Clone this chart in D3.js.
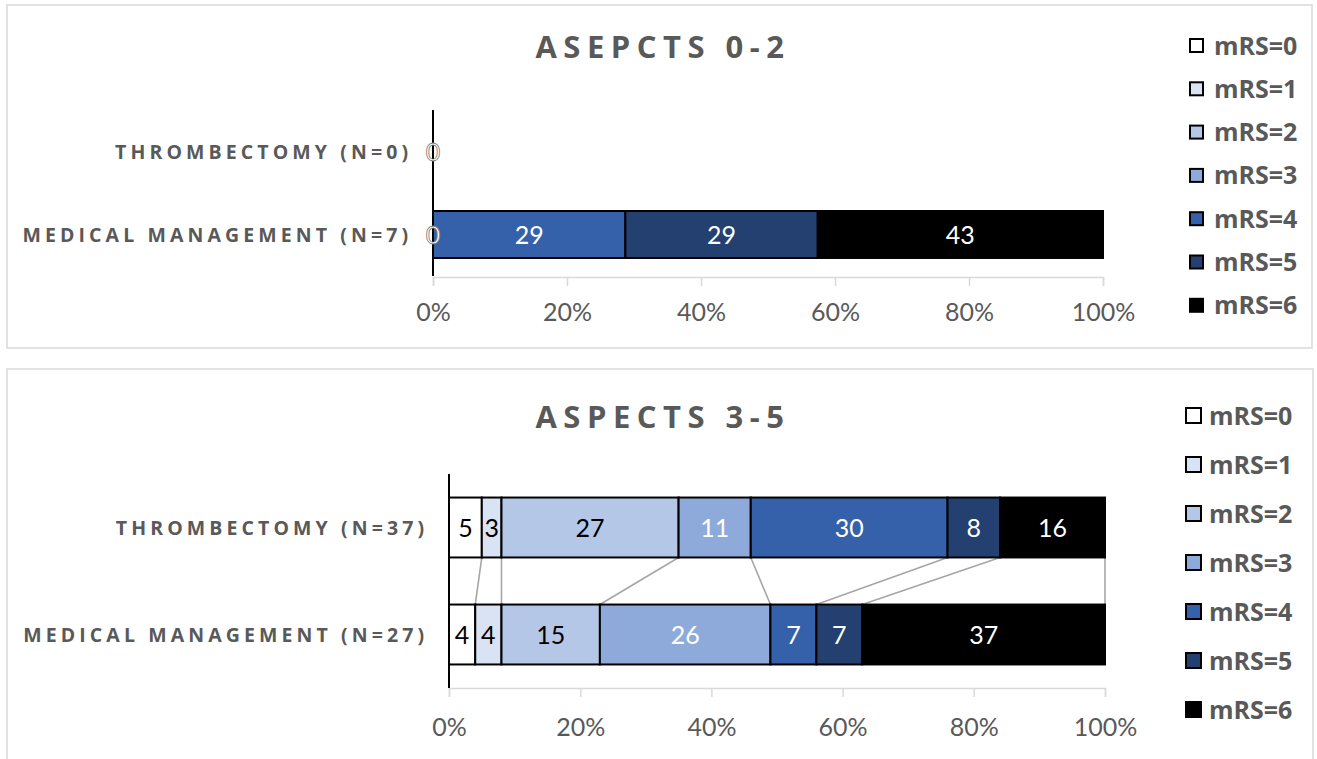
<!DOCTYPE html>
<meta charset="utf-8">
<style>
body { margin: 0; background: #fff; }
.frame { fill: #fff; stroke: #d9d9d9; stroke-width: 1.5; }
.title { font-family: "Open Sans", sans-serif; font-weight: 700; font-size: 31px; fill: #595959; letter-spacing: 6.5px; }
.cat { font-family: "Open Sans", sans-serif; font-weight: 700; font-size: 19.5px; fill: #595959; letter-spacing: 4.1px; }
.legend text { font-family: "Open Sans", sans-serif; font-weight: 700; font-size: 25px; fill: #595959; }
.tick text { font-family: Lato, sans-serif; font-size: 25px; fill: #595959; }
.lbl { font-family: Lato, sans-serif; font-size: 25px; }
.seg { stroke: #000; stroke-width: 2; }
.serline { stroke: #a6a6a6; stroke-width: 1.6; fill: none; }
</style>
<svg width="1317" height="759"></svg>
<script src="https://cdn.jsdelivr.net/npm/d3@7"></script>
<script>

// data
var levels = ["mRS=0", "mRS=1", "mRS=2", "mRS=3", "mRS=4", "mRS=5", "mRS=6"];
var colors = ["#ffffff", "#dae3f3", "#b4c7e7", "#8eaadb", "#3560aa", "#244070", "#000000"];
var darkText = [true, true, true, false, false, false, false];

var topTitle = "ASEPCTS 0-2";
var topGroups = ["THROMBECTOMY (N=0)", "MEDICAL MANAGEMENT (N=7)"];
var topThrombectomy = [0, 0, 0, 0, 0, 0, 0];
var topMedical = [0, 0, 0, 0, 29, 29, 43];

var botTitle = "ASPECTS 3-5";
var botGroups = ["THROMBECTOMY (N=37)", "MEDICAL MANAGEMENT (N=27)"];
var botThrombectomy = [5, 3, 27, 11, 30, 8, 16];
var botMedical = [4, 4, 15, 26, 7, 7, 37];

var tickValues = [0, 0.2, 0.4, 0.6, 0.8, 1];

var svg = d3.select("svg");

function panel(title, groups, seriesA, seriesB, lay) {
  var g = svg.append("g");

  g.append("rect").attr("class", "frame")
      .attr("x", lay.frame[0]).attr("y", lay.frame[1])
      .attr("width", lay.frame[2]).attr("height", lay.frame[3]);

  g.append("text").attr("class", "title")
      .attr("x", 660 + 3).attr("y", lay.titleY)
      .attr("text-anchor", "middle")
      .text(title);

  var rows = groups.map(function(name, i) {
    var r = { name: name };
    var vals = i == 0 ? seriesA : seriesB;
    levels.forEach(function(k, j) { r[k] = vals[j]; });
    return r;
  });

  var stack = d3.stack().keys(levels).offset(d3.stackOffsetExpand)(rows);

  var x = d3.scaleLinear().domain([0, 1]).range([lay.x0, lay.x1]);
  var y = d3.scaleBand().domain(groups).range([lay.y0, lay.y1])
      .paddingInner(lay.pad).paddingOuter(lay.pad / 2);

  // x axis
  var ax = g.append("g")
      .attr("transform", "translate(0," + lay.axisY + ")")
      .call(d3.axisBottom(x).tickValues(tickValues).tickFormat(d3.format(".0%")).tickSize(9).tickPadding(lay.tickPad));
  ax.select(".domain").attr("stroke", "#d9d9d9").attr("stroke-width", 1.5);
  ax.selectAll(".tick line").attr("stroke", "#d9d9d9").attr("stroke-width", 1.5);

  // series lines
  if (lay.seriesLines) {
    var a = groups[0], b = groups[1];
    g.selectAll(".serline")
      .data(stack)
      .enter().append("line")
        .attr("class", "serline")
        .attr("x1", function(s) { return x(s[0][1]); })
        .attr("y1", y(a) + y.bandwidth())
        .attr("x2", function(s) { return x(s[1][1]); })
        .attr("y2", y(b));
  }

  // bars
  var layer = g.selectAll(".layer")
    .data(stack)
    .enter().append("g")
      .attr("fill", function(s) { return colors[s.index]; });

  layer.selectAll("rect")
    .data(function(s) { return s; })
    .enter().append("rect")
      .attr("class", "seg")
      .attr("x", function(d) { return x(d[0]); })
      .attr("y", function(d) { return y(d.data.name); })
      .attr("width", function(d) { return x(d[1]) - x(d[0]); })
      .attr("height", y.bandwidth());

  // y axis line
  g.append("line")
      .attr("x1", lay.x0).attr("x2", lay.x0)
      .attr("y1", lay.y0).attr("y2", lay.y1)
      .attr("stroke", "#000").attr("stroke-width", 2);

  // labels
  stack.forEach(function(s) {
    s.forEach(function(d) {
      var v = d.data[s.key];
      if (v != 0) {
        g.append("text").attr("class", "lbl")
          .attr("x", (x(d[0]) + x(d[1])) / 2)
          .attr("y", y(d.data.name) + y.bandwidth() / 2)
          .attr("dy", "0.36em")
          .attr("text-anchor", "middle")
          .attr("fill", darkText[s.index] ? "#000" : "#fff")
          .text(v);
      } else if (s.index == 0) {
        g.append("text").attr("class", "lbl")
          .attr("x", x(d[0]))
          .attr("y", y(d.data.name) + y.bandwidth() / 2)
          .attr("dy", "0.36em")
          .attr("text-anchor", "middle")
          .attr("fill", "#fff").attr("stroke", "#777").attr("stroke-width", 0.8)
          .text(v);
      }
    });
  });

  // category labels
  g.selectAll(".cat")
    .data(groups)
    .enter().append("text")
      .attr("class", "cat")
      .attr("x", lay.x0 - 25 + 4.1)
      .attr("y", function(d) { return y(d) + y.bandwidth() / 2; })
      .attr("dy", "0.36em")
      .attr("text-anchor", "end")
      .text(function(d) { return d; });

  // legend
  var leg = g.append("g").attr("class", "legend");
  var item = leg.selectAll("g")
    .data(levels)
    .enter().append("g")
      .attr("transform", function(d, i) { return "translate(0," + (lay.legY + i * lay.legDy) + ")"; });
  item.append("rect")
      .attr("x", lay.legX).attr("y", -lay.sq / 2)
      .attr("width", lay.sq).attr("height", lay.sq)
      .attr("fill", function(d, i) { return colors[i]; })
      .attr("stroke", "#000").attr("stroke-width", 2);
  item.append("text")
      .attr("x", lay.legTextX)
      .attr("dy", "0.36em")
      .text(function(d) { return d; });
}

panel(topTitle, topGroups, topThrombectomy, topMedical, {
  frame: [7, 5, 1305, 343], titleY: 58,
  x0: 433, x1: 1103, y0: 110, y1: 276, pad: 0.434,
  axisY: 277, tickPad: 17, seriesLines: false,
  legX: 1190, sq: 13, legTextX: 1214, legY: 45.5, legDy: 43.3
});

panel(botTitle, botGroups, botThrombectomy, botMedical, {
  frame: [7, 369, 1306, 400], titleY: 428,
  x0: 449, x1: 1105, y0: 474, y1: 688, pad: 0.44,
  axisY: 688, tickPad: 21, seriesLines: true,
  legX: 1186, sq: 15, legTextX: 1209, legY: 415.5, legDy: 49
});

</script>
